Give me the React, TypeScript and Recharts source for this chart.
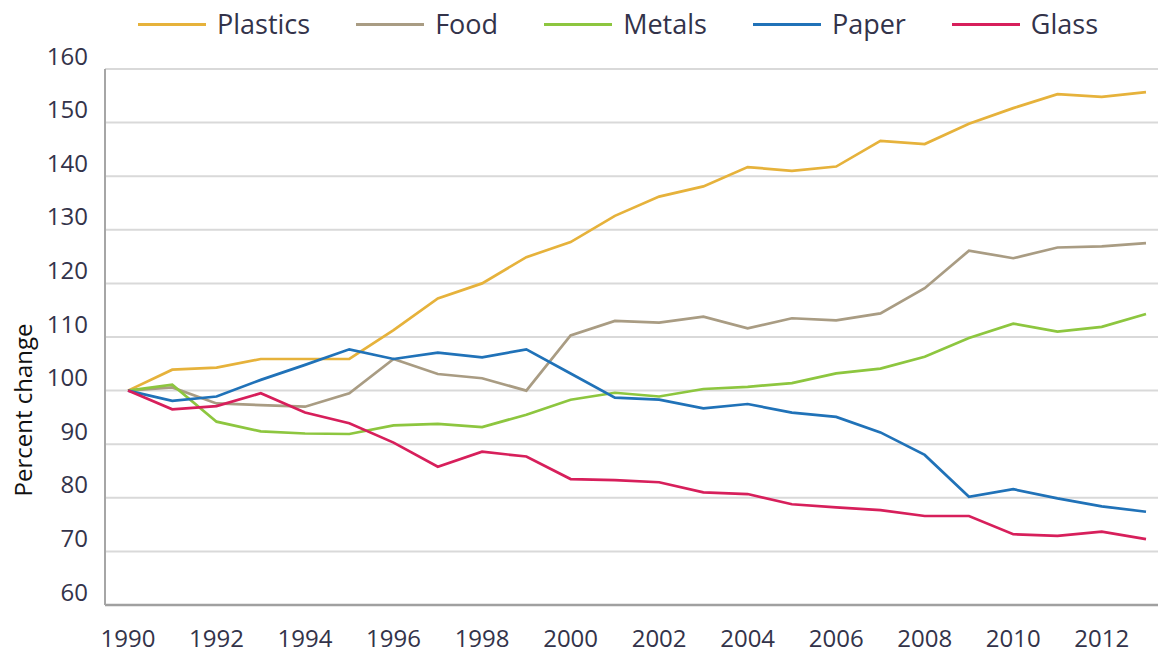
import { LineChart, Line, XAxis, YAxis, CartesianGrid, Legend } from "recharts";

const years = [
  1990, 1991, 1992, 1993, 1994, 1995, 1996, 1997, 1998, 1999, 2000, 2001,
  2002, 2003, 2004, 2005, 2006, 2007, 2008, 2009, 2010, 2011, 2012, 2013,
];

const plastics = [
  100, 103.9, 104.3, 105.9, 105.9, 105.9, 111.3, 117.2, 120.0, 124.9, 127.7, 132.6,
  136.2, 138.1, 141.7, 141.0, 141.8, 146.6, 146.0, 149.8, 152.7, 155.3, 154.8, 155.7,
];
const food = [
  100, 100.6, 97.6, 97.3, 97.0, 99.5, 105.9, 103.1, 102.3, 100.0, 110.3, 113.0,
  112.7, 113.8, 111.6, 113.5, 113.1, 114.4, 119.1, 126.1, 124.7, 126.7, 126.9, 127.5,
];
const metals = [
  100, 101.1, 94.2, 92.4, 92.0, 91.9, 93.5, 93.8, 93.2, 95.5, 98.3, 99.6,
  98.9, 100.3, 100.7, 101.4, 103.2, 104.1, 106.3, 109.8, 112.5, 111.0, 111.9, 114.3,
];
const paper = [
  100, 98.1, 98.9, 102.0, 104.8, 107.7, 105.9, 107.1, 106.2, 107.7, 103.2, 98.7,
  98.3, 96.7, 97.5, 95.9, 95.1, 92.2, 88.0, 80.2, 81.6, 79.9, 78.4, 77.4,
];
const glass = [
  100, 96.5, 97.1, 99.5, 95.9, 93.9, 90.3, 85.8, 88.6, 87.7, 83.5, 83.3,
  82.9, 81.0, 80.7, 78.8, 78.2, 77.7, 76.6, 76.6, 73.2, 72.9, 73.7, 72.3,
];

const yTicks = [60, 70, 80, 90, 100, 110, 120, 130, 140, 150, 160];

const series = [
  { key: "plastics", name: "Plastics", color: "#e6b23b", values: plastics },
  { key: "food", name: "Food", color: "#a99c83", values: food },
  { key: "metals", name: "Metals", color: "#8dc63f", values: metals },
  { key: "paper", name: "Paper", color: "#2072b8", values: paper },
  { key: "glass", name: "Glass", color: "#d71f5b", values: glass },
];

const data = years.map((year, i) => {
  const row: Record<string, number> = { year };
  series.forEach((s) => {
    row[s.key] = s.values[i];
  });
  return row;
});

const textColor = "#33334a";
const font = "'Open Sans', sans-serif";

function XTick({ x, y, payload }: any) {
  return (
    <text x={x} y={y + 42} textAnchor="middle" fill={textColor} fontSize={24} fontFamily={font}>
      {payload.value}
    </text>
  );
}

function YTick({ x, y, payload }: any) {
  return (
    <text x={x} y={y - 13} dy="0.36em" textAnchor="end" fill={textColor} fontSize={24} fontFamily={font}>
      {payload.value}
    </text>
  );
}

function LegendContent() {
  return (
    <div
      style={{
        display: "flex",
        alignItems: "center",
        height: 48,
        paddingLeft: 138,
        gap: 46,
        fontFamily: font,
        fontSize: 27,
        color: textColor,
      }}
    >
      {series.map((s) => (
        <div key={s.key} style={{ display: "flex", alignItems: "center" }}>
          <span style={{ display: "inline-block", width: 68, height: 3, background: s.color, marginRight: 11 }} />
          <span style={{ lineHeight: "48px" }}>{s.name}</span>
        </div>
      ))}
    </div>
  );
}

export default function App() {
  return (
    <div style={{ position: "absolute", left: 0, top: 0, width: 1158, height: 654, background: "#fff" }}>
      <LineChart width={1158} height={654} data={data} margin={{ top: 21, right: 0, bottom: 0, left: 0 }}>
        <CartesianGrid vertical={false} stroke="#d9d9d9" strokeWidth={2} />
        <XAxis
          dataKey="year"
          type="category"
          interval={1}
          padding={{ left: 23, right: 12 }}
          height={49}
          tickSize={0}
          tickMargin={0}
          tickLine={false}
          axisLine={{ stroke: "#a0a0a0", strokeWidth: 2.5 }}
          tick={<XTick />}
        />
        <YAxis
          domain={[60, 160]}
          ticks={yTicks}
          width={105}
          tickSize={0}
          tickMargin={17}
          tickLine={false}
          axisLine={{ stroke: "#a6a6a6", strokeWidth: 2 }}
          tick={<YTick />}
          label={{
            content: () => (
              <text
                transform="translate(32, 410) rotate(-90)"
                textAnchor="middle"
                fill="#111"
                fontSize={24}
                fontFamily={font}
              >
                Percent change
              </text>
            ),
          }}
        />
        <Legend verticalAlign="top" height={48} wrapperStyle={{ top: 0, left: 0, width: 1158 }} content={<LegendContent />} />
        {series.map((s) => (
          <Line
            key={s.key}
            dataKey={s.key}
            name={s.name}
            stroke={s.color}
            strokeWidth={2.7}
            dot={false}
            isAnimationActive={false}
          />
        ))}
      </LineChart>
    </div>
  );
}
